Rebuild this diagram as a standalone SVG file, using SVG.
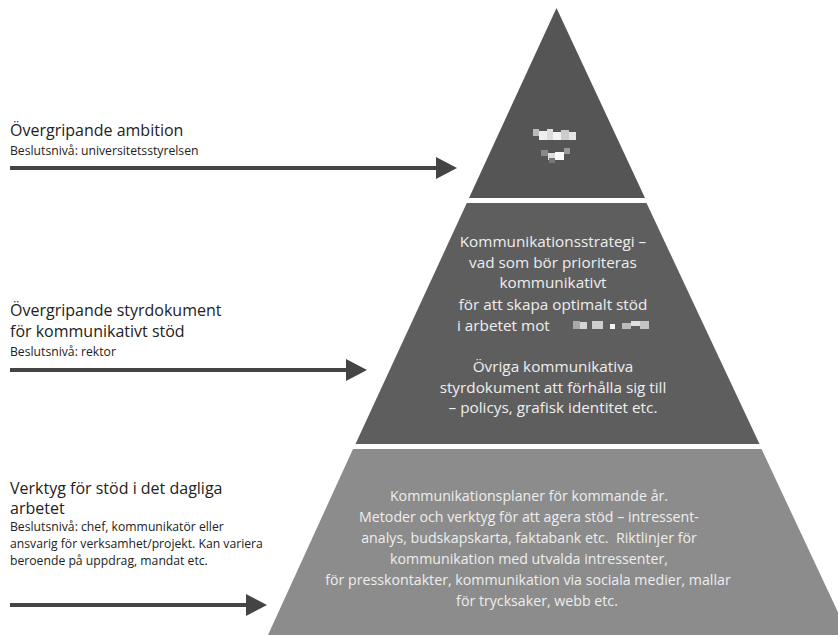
<svg xmlns="http://www.w3.org/2000/svg" width="838" height="635" viewBox="0 0 838 635">
<style>
.lbl{font-family:"Open Sans","Liberation Sans",sans-serif;fill:#222}
.h{font-size:16px}
.s{font-size:12.2px}
.p{font-family:"Open Sans","Liberation Sans",sans-serif;fill:#eee;text-anchor:middle;font-size:15.3px}
.pb{font-family:"Open Sans","Liberation Sans",sans-serif;fill:#eee;text-anchor:middle;font-size:14.2px}
.arr{stroke:#444;stroke-width:4;fill:none}
.head{fill:#444}
</style>
<rect width="838" height="635" fill="#fff"/>
<g id="level-top">
<polygon points="556.5,8 645,198 469,198" fill="#555"/>
<g id="mosaic-top">
<rect x="533" y="129" width="6" height="7" fill="#bbb"/>
<rect x="539" y="131" width="8" height="9" fill="#eee"/>
<rect x="547" y="129" width="6" height="11" fill="#ddd"/>
<rect x="553" y="132" width="8" height="8" fill="#f4f4f4"/>
<rect x="561" y="130" width="8" height="10" fill="#ccc"/>
<rect x="569" y="132" width="7" height="8" fill="#e4e4e4"/>
<rect x="541" y="150" width="7" height="6" fill="#888"/>
<rect x="548" y="153" width="7" height="7" fill="#ddd"/>
<rect x="555" y="152" width="9" height="8" fill="#fafafa"/>
<rect x="564" y="148" width="6" height="6" fill="#999"/>
<rect x="549" y="158" width="6" height="5" fill="#777"/>
</g>
</g>
<g id="level-middle">
<polygon points="466.8,203 646.5,203 759.5,444 355.5,444" fill="#5e5e5e"/>
<text class="p" x="553" y="247">Kommunikationsstrategi –</text>
<text class="p" x="553" y="268">vad som bör prioriteras</text>
<text class="p" x="553" y="288">kommunikativt</text>
<text class="p" x="553" y="310">för att skapa optimalt stöd</text>
<text class="p" x="457" y="331" style="text-anchor:start">i arbetet mot</text>
<g id="mosaic-middle">
<rect x="573" y="321" width="7" height="8" fill="#aaa"/>
<rect x="580" y="322" width="7" height="7" fill="#d4d4d4"/>
<rect x="592" y="321" width="11" height="8" fill="#cfcfcf"/>
<rect x="610" y="324" width="5" height="5" fill="#f2f2f2"/>
<rect x="622" y="323" width="9" height="6" fill="#bbb"/>
<rect x="631" y="321" width="9" height="5" fill="#e0e0e0"/>
<rect x="640" y="321" width="9" height="8" fill="#c4c4c4"/>
</g>
<text class="p" x="553" y="372">Övriga kommunikativa</text>
<text class="p" x="553" y="393">styrdokument att förhålla sig till</text>
<text class="p" x="553" y="413">– policys, grafisk identitet etc.</text>
</g>
<g id="level-bottom">
<polygon points="353,449 761.5,449 843,623 843,635 268,635" fill="#8c8c8c"/>
<text class="pb" x="529" y="501">Kommunikationsplaner för kommande år.</text>
<text class="pb" x="529" y="522">Metoder och verktyg för att agera stöd – intressent-</text>
<text class="pb" x="529" y="543">analys, budskapskarta, faktabank etc.&#160; Riktlinjer för</text>
<text class="pb" x="529" y="564">kommunikation med utvalda intressenter,</text>
<text class="pb" x="528" y="585">för presskontakter, kommunikation via sociala medier, mallar</text>
<text class="pb" x="537" y="606">för trycksaker, webb etc.</text>
</g>
<g id="label-ambition">
<text class="lbl h" x="10" y="136">Övergripande ambition</text>
<text class="lbl s" x="10" y="155">Beslutsnivå: universitetsstyrelsen</text>
</g>
<g id="label-styrdokument">
<text class="lbl h" x="10" y="316">Övergripande styrdokument</text>
<text class="lbl h" x="10" y="337">för kommunikativt stöd</text>
<text class="lbl s" x="10" y="356">Beslutsnivå: rektor</text>
</g>
<g id="label-verktyg">
<text class="lbl h" x="10" y="494">Verktyg för stöd i det dagliga</text>
<text class="lbl h" x="10" y="514">arbetet</text>
<text class="lbl s" x="10" y="531">Beslutsnivå: chef, kommunikatör eller</text>
<text class="lbl s" x="10" y="548">ansvarig för verksamhet/projekt. Kan variera</text>
<text class="lbl s" x="10" y="565">beroende på uppdrag, mandat etc.</text>
</g>
<g id="connectors">
<line class="arr" x1="10" y1="168" x2="438" y2="168"/>
<polygon class="head" points="436,157 457,168 436,179"/>
<line class="arr" x1="10" y1="370" x2="348" y2="370"/>
<polygon class="head" points="346,359 367,370 346,381"/>
<line class="arr" x1="10" y1="605" x2="248" y2="605"/>
<polygon class="head" points="246,594 267,605 246,616"/>
</g>
</svg>
